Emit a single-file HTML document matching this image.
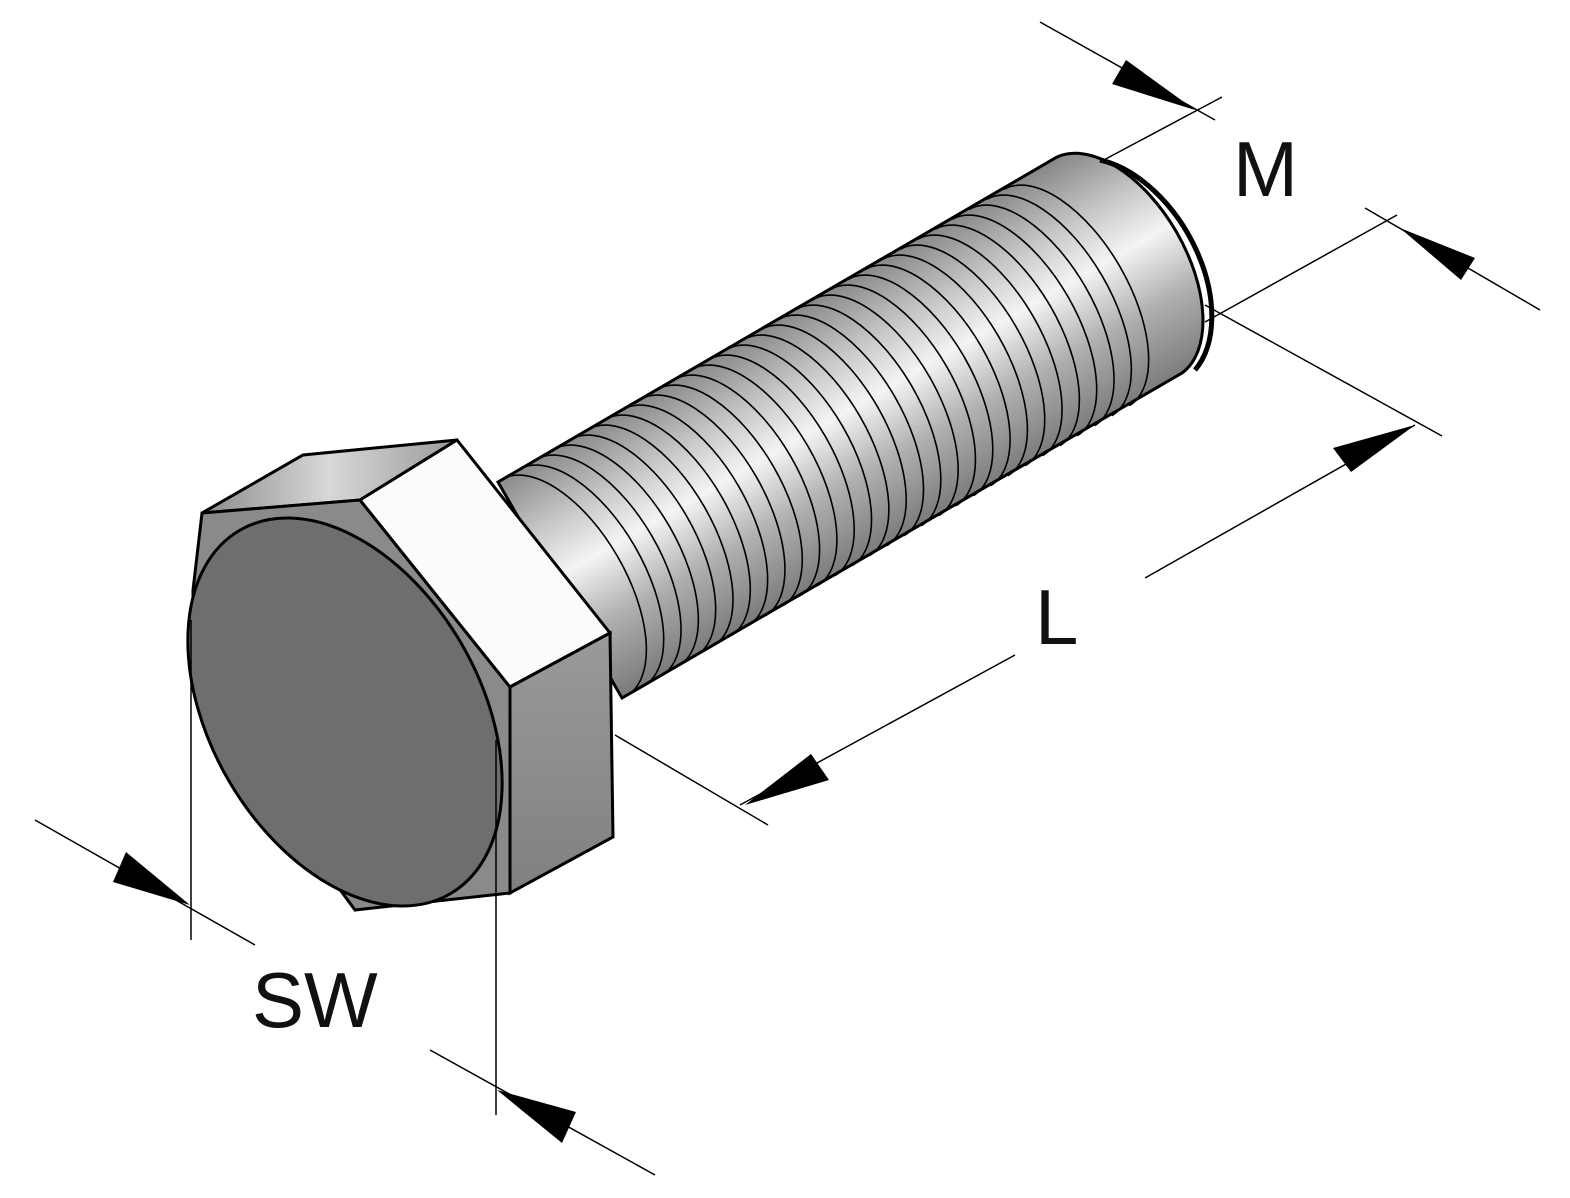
<!DOCTYPE html>
<html><head><meta charset="utf-8"><style>
html,body{margin:0;padding:0;background:#fff;}
svg{display:block;}
text{font-family:"Liberation Sans",sans-serif;fill:#111;}
</style></head><body>
<svg width="1570" height="1198" viewBox="0 0 1570 1198" xmlns="http://www.w3.org/2000/svg">
<defs>
<linearGradient id="sh" gradientUnits="userSpaceOnUse" x1="498" y1="482" x2="622" y2="698">
<stop offset="0" stop-color="#8a8a8a"/>
<stop offset="0.25" stop-color="#c8c8c8"/>
<stop offset="0.45" stop-color="#f4f4f4"/>
<stop offset="0.7" stop-color="#b0b0b0"/>
<stop offset="1" stop-color="#7a7a7a"/>
</linearGradient>
<linearGradient id="top" x1="0" y1="0" x2="1" y2="0">
<stop offset="0" stop-color="#8c8c8c"/>
<stop offset="0.5" stop-color="#d8d8d8"/>
<stop offset="1" stop-color="#9a9a9a"/>
</linearGradient>
<linearGradient id="rf" x1="0" y1="0" x2="0" y2="1">
<stop offset="0" stop-color="#9a9a9a"/>
<stop offset="1" stop-color="#808080"/>
</linearGradient>
</defs>

<path d="M498,482 L1057,157 A125,70 60 0 1 1182,373 L622,698 Z" fill="url(#sh)" stroke="#000" stroke-width="3"/>
<path d="M1100,160 A125,80 60 0 1 1195,370" fill="none" stroke="#000" stroke-width="5"/>
<g fill="none" stroke="#000" stroke-width="1.6" id="thr"></g>

<polygon points="202,513 303,455 457,440 360,500" fill="url(#top)" stroke="#000" stroke-width="3"/>
<polygon points="202,513 360,500 510,687 510,893 355,910 193,690 193,590" fill="#8a8a8a" stroke="#000" stroke-width="3"/>
<polygon points="360,500 457,440 610,633 510,687" fill="#fbfbfb" stroke="#000" stroke-width="3"/>
<polygon points="510,687 610,633 613,837 510,893" fill="url(#rf)" stroke="#000" stroke-width="3"/>
<ellipse cx="345" cy="712" rx="210" ry="135" transform="rotate(60 345 712)" fill="#6e6e6e" stroke="#000" stroke-width="3"/>

<g stroke="#000" stroke-width="1.5" fill="none">
<line x1="1040" y1="22" x2="1215" y2="120"/>
<line x1="1100" y1="162" x2="1222" y2="97"/>
<line x1="1365" y1="208" x2="1540" y2="310"/>
<line x1="1205" y1="322" x2="1397" y2="215"/>
<line x1="1205" y1="305" x2="1442" y2="436"/>
<line x1="615" y1="735" x2="768" y2="825"/>
<line x1="1145" y1="578" x2="1415" y2="425"/>
<line x1="740" y1="805" x2="1015" y2="655"/>
<line x1="191" y1="620" x2="191" y2="940"/>
<line x1="496" y1="740" x2="496" y2="1115"/>
<line x1="35" y1="820" x2="255" y2="945"/>
<line x1="430" y1="1050" x2="655" y2="1175"/>
</g>
<g fill="#000">
<polygon points="1195,110 1112,84 1126,60"/>
<polygon points="1400,228 1475,258 1461,280"/>
<polygon points="1415,425 1351,472 1333,448"/>
<polygon points="745,805 811,754 829,780"/>
<polygon points="190,905 113,882 126,852"/>
<polygon points="497,1090 576,1112 562,1143"/>
</g>
<text x="1233" y="196" font-size="78">M</text>
<text x="1035" y="644" font-size="78">L</text>
<text x="252" y="1027" font-size="78">SW</text>
</svg>
<script>
var g=document.getElementById('thr');
var ux=0.866,uy=-0.5,nx=0.5,ny=0.866,R=125;
for(var t=5;t<600;t+=20){
 var cx=560+ux*t,cy=590+uy*t;
 var x1=cx-nx*R,y1=cy-ny*R,x2=cx+nx*R,y2=cy+ny*R;
 var p=document.createElementNS('http://www.w3.org/2000/svg','path');
 p.setAttribute('d','M'+x1+','+y1+' A125,62 60 0 1 '+x2+','+y2);
 g.appendChild(p);
}
</script>
</body></html>
